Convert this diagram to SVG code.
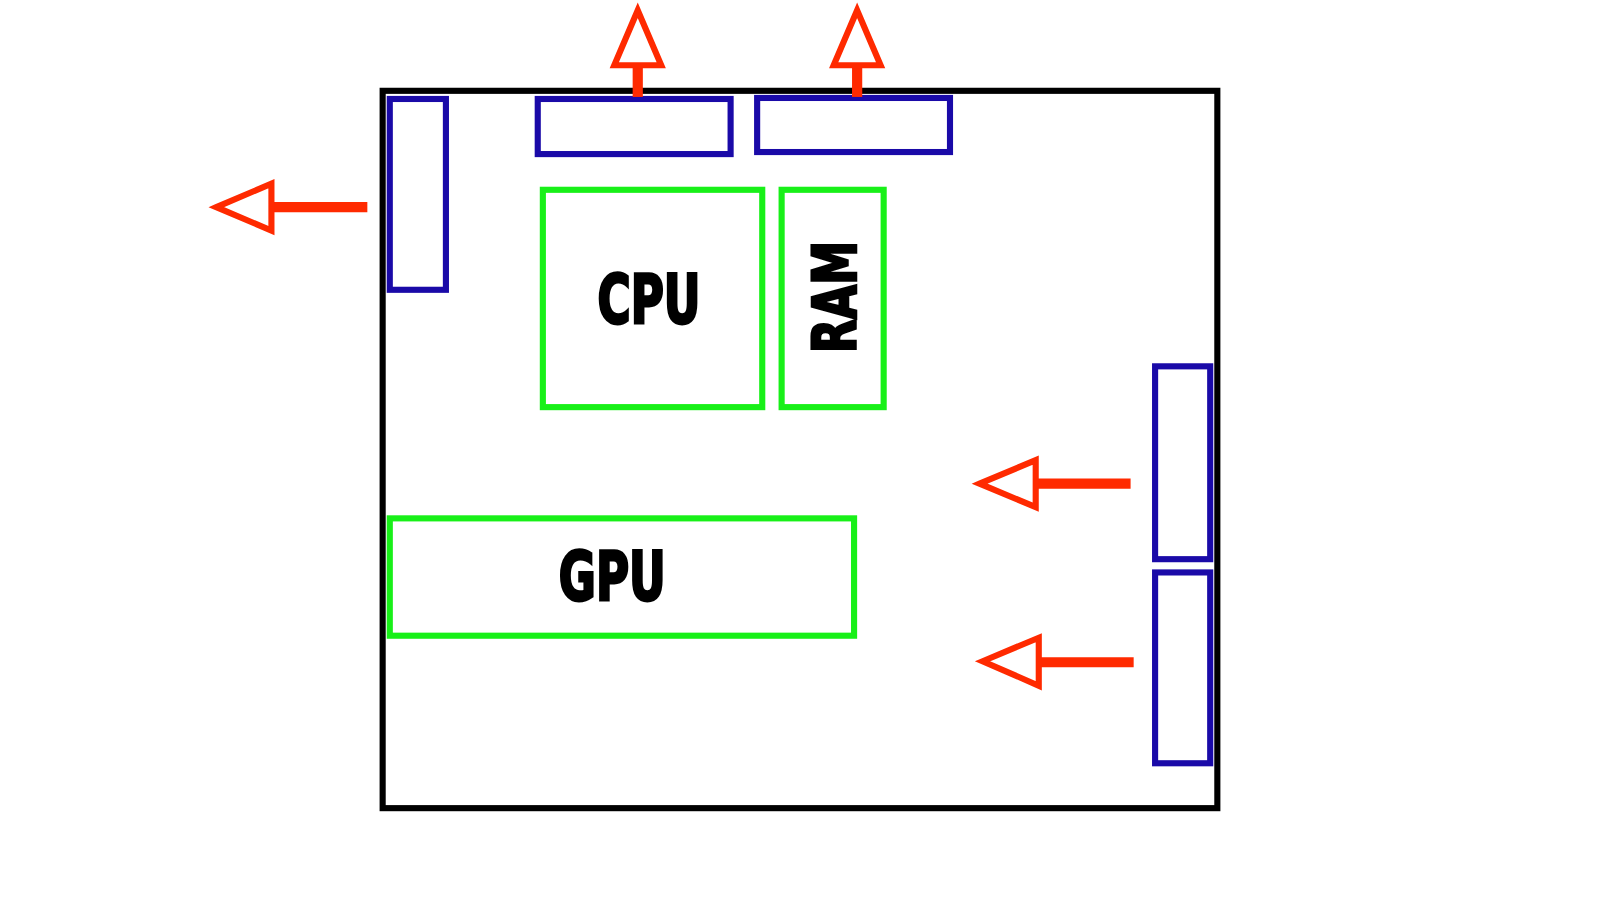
<svg xmlns="http://www.w3.org/2000/svg" width="1600" height="900" viewBox="0 0 1600 900">
<style>
.case{fill:none;stroke:#000;stroke-width:6}
.fan{fill:none;stroke:#1a0aa8;stroke-width:6}
.comp{fill:none;stroke:#18f018;stroke-width:6}
.arr{fill:none;stroke:#ff2a00;stroke-width:6}
.sh{stroke:#ff2a00;stroke-width:10}
.lbl{font-family:"DejaVu Sans Condensed","Liberation Sans",sans-serif;font-weight:bold;font-size:60px;fill:#000;stroke:#000;stroke-width:2.5;text-anchor:middle}
</style>
<rect width="1600" height="900" fill="#fff"/>
<g transform="scale(1.0204)">
<g id="case"><rect class="case" x="375" y="89" width="818" height="703"/></g>
<g id="fan-left"><rect class="fan" x="382" y="97" width="55" height="187"/></g>
<g id="fan-top1"><rect class="fan" x="527" y="97" width="189" height="54"/></g>
<g id="fan-top2"><rect class="fan" x="742" y="96" width="189" height="53"/></g>
<g id="fan-right1"><rect class="fan" x="1132" y="359" width="54" height="189"/></g>
<g id="fan-right2"><rect class="fan" x="1132" y="561" width="54" height="187"/></g>
<g id="cpu"><rect class="comp" x="532" y="186" width="215" height="213"/><text class="lbl" transform="translate(636 317) scale(0.82 1.1)" x="0" y="0">CPU</text></g>
<g id="ram"><rect class="comp" x="766" y="186" width="100" height="213"/><text class="lbl" transform="translate(839 291) rotate(-90) scale(0.8 1.0)" x="0" y="0">RAM</text></g>
<g id="gpu"><rect class="comp" x="382" y="508" width="455" height="115"/><text class="lbl" transform="translate(600 588) scale(0.82 1.1)" x="0" y="0">GPU</text></g>
<g id="connectors">
<line class="sh" x1="625" y1="64" x2="625" y2="95"/><polygon class="arr" points="625,10 602,64 648,64"/>
<line class="sh" x1="840" y1="64" x2="840" y2="95"/><polygon class="arr" points="840,10 817,64 863,64"/>
<line class="sh" x1="266" y1="203" x2="360" y2="203"/><polygon class="arr" points="212,203 266,180 266,226"/>
<line class="sh" x1="1015" y1="474" x2="1108" y2="474"/><polygon class="arr" points="960,474 1015,451 1015,497"/>
<line class="sh" x1="1018" y1="649" x2="1111" y2="649"/><polygon class="arr" points="963,648 1018,625 1018,672"/>
</g>
</g>
</svg>
